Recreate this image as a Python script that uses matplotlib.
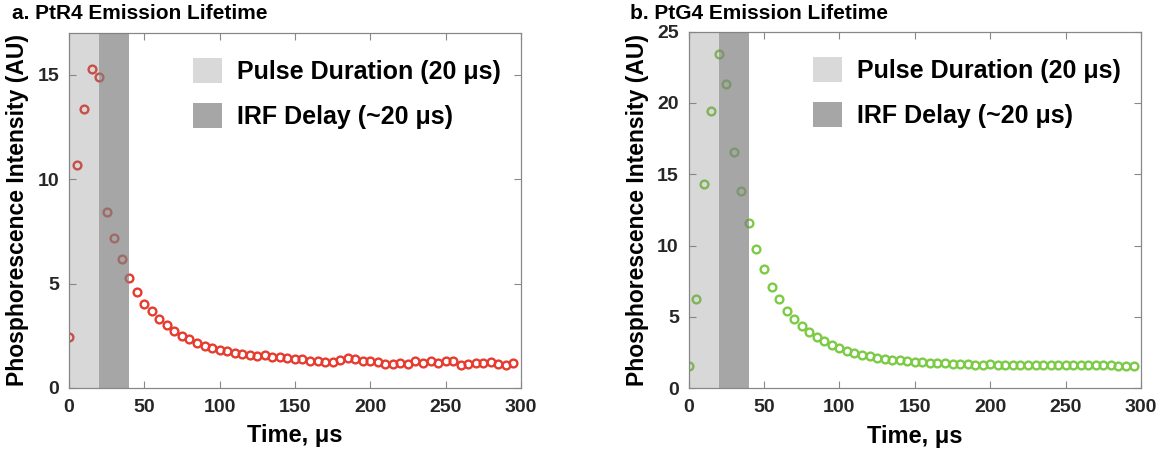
import matplotlib
matplotlib.use("Agg")
import matplotlib.pyplot as plt
from matplotlib.patches import Patch

plt.rcParams['font.family'] = ['Liberation Sans', 'DejaVu Sans']
plt.rcParams['font.weight'] = 'bold'

# time points (us)
time_us = [0, 5, 10, 15, 20, 25, 30, 35, 40, 45, 50, 55, 60, 65, 70, 75, 80, 85, 90, 95,
           100, 105, 110, 115, 120, 125, 130, 135, 140, 145, 150, 155, 160, 165, 170, 175,
           180, 185, 190, 195, 200, 205, 210, 215, 220, 225, 230, 235, 240, 245, 250, 255,
           260, 265, 270, 275, 280, 285, 290, 295]

# PtR4 intensity
ptr4 = [2.44, 10.69, 13.38, 15.29, 14.89, 8.43, 7.16, 6.18, 5.25, 4.61, 4.04, 3.68, 3.32,
        3.03, 2.74, 2.51, 2.37, 2.14, 2.02, 1.92, 1.84, 1.78, 1.66, 1.62, 1.56, 1.55, 1.59,
        1.50, 1.47, 1.42, 1.38, 1.38, 1.31, 1.28, 1.26, 1.26, 1.33, 1.42, 1.38, 1.28, 1.31,
        1.23, 1.15, 1.15, 1.18, 1.15, 1.30, 1.22, 1.28, 1.22, 1.30, 1.30, 1.12, 1.17, 1.20,
        1.20, 1.26, 1.17, 1.09, 1.18]

# PtG4 intensity
ptg4 = [1.59, 6.25, 14.29, 19.44, 23.45, 21.36, 16.6, 13.85, 11.61, 9.77, 8.35, 7.13, 6.25,
        5.45, 4.85, 4.36, 3.92, 3.57, 3.31, 3.04, 2.80, 2.62, 2.51, 2.35, 2.26, 2.16, 2.08,
        2.01, 1.96, 1.91, 1.87, 1.82, 1.75, 1.77, 1.75, 1.73, 1.73, 1.68, 1.66, 1.66, 1.68,
        1.63, 1.63, 1.63, 1.63, 1.63, 1.63, 1.61, 1.63, 1.61, 1.63, 1.61, 1.61, 1.63, 1.61,
        1.61, 1.61, 1.59, 1.59, 1.59]

pulse = (0, 20)
irf = (20, 40)
legend_labels = ["Pulse Duration (20 \u03bcs)", "IRF Delay (~20 \u03bcs)"]

fig = plt.figure(figsize=(11.73, 4.59), dpi=100)
ax_a = fig.add_axes([0.0588, 0.1547, 0.3853, 0.7734])
ax_b = fig.add_axes([0.587, 0.154, 0.3858, 0.777])


def draw_panel(ax, y, color, ylim, yticks, title, title_x):
    ax.plot(time_us, y, linestyle='none', marker='o', markersize=5.6,
            markerfacecolor='none', markeredgecolor=color, markeredgewidth=1.7, zorder=2)
    # shaded regions over the markers
    ax.axvspan(*pulse, color='#808080', alpha=0.3, lw=0, zorder=3)
    ax.axvspan(*irf, color='#808080', alpha=0.7, lw=0, zorder=3)

    ax.set_xlim(0, 300)
    ax.set_ylim(*ylim)
    ax.set_xticks([0, 50, 100, 150, 200, 250, 300])
    ax.set_yticks(yticks)
    ax.tick_params(direction='in', top=True, right=True, length=5, width=0.8,
                   color='#888888', labelsize=14, labelcolor='#262626')
    ax.tick_params(axis='x', pad=8)
    ax.tick_params(axis='y', pad=7)
    for lab in ax.get_xticklabels() + ax.get_yticklabels():
        lab.set_fontweight('bold')
    for s in ax.spines.values():
        s.set_color('#888888')
        s.set_linewidth(0.9)
    ax.set_xlabel("Time, \u03bcs", fontsize=17, fontweight='bold', labelpad=6)
    ax.set_ylabel("Phosphorescence Intensity (AU)", fontsize=16.5, fontweight='bold', labelpad=6)

    handles = [Patch(facecolor='#d9d9d9', edgecolor='none'),
               Patch(facecolor='#a6a6a6', edgecolor='none')]
    ax.legend(handles, legend_labels, loc='upper left', bbox_to_anchor=(0.274, 0.93),
              frameon=False, borderpad=0, borderaxespad=0, handlelength=1.16,
              handleheight=1.16, handletextpad=0.6, labelspacing=0.78,
              prop={'size': 18, 'weight': 'bold'})

    fig.text(title_x, 0.95, title, fontsize=15, fontweight='bold', ha='left', va='bottom')


draw_panel(ax_a, ptr4, '#e63b2e', (0, 17), [0, 5, 10, 15], "a. PtR4 Emission Lifetime", 0.010)
draw_panel(ax_b, ptg4, '#7ccb45', (0, 25), [0, 5, 10, 15, 20, 25], "b. PtG4 Emission Lifetime", 0.537)

fig.savefig("out.png", dpi=100)
